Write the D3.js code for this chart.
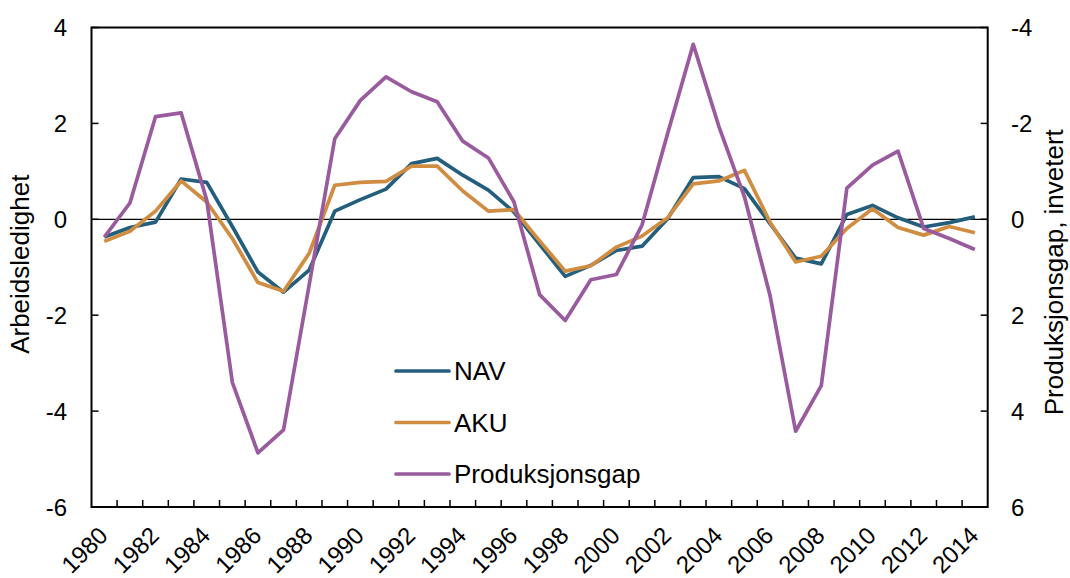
<!DOCTYPE html>
<html>
<head>
<meta charset="utf-8">
<script src="https://cdn.jsdelivr.net/npm/d3@7"></script>
<style>
  body { margin: 0; background: #fff; }
  svg text { font-family: "Liberation Sans", Arial, sans-serif; fill: #000; }
</style>
</head>
<body>
<div id="chart"></div>
<script>
// years on the x axis
var years = d3.range(1980, 2015);

// registered unemployment (NAV), deviation from trend
var nav = [-0.37, -0.17, -0.06, 0.84, 0.77, -0.15, -1.10, -1.52, -1.06, 0.17,
           0.41, 0.63, 1.16, 1.27, 0.92, 0.61, 0.15, -0.52, -1.19, -0.96,
           -0.65, -0.56, 0.01, 0.87, 0.89, 0.64, -0.09, -0.81, -0.93, 0.10,
           0.29, 0.03, -0.16, -0.07, 0.05];

// labour force survey (AKU)
var aku = [-0.46, -0.25, 0.17, 0.80, 0.36, -0.40, -1.32, -1.50, -0.71, 0.71,
           0.77, 0.79, 1.11, 1.11, 0.59, 0.17, 0.20, -0.45, -1.08, -0.97,
           -0.58, -0.35, 0.03, 0.74, 0.80, 1.02, -0.06, -0.89, -0.77, -0.19,
           0.22, -0.17, -0.33, -0.15, -0.28];

// output gap, drawn against the inverted right axis
var gap = [0.37, -0.34, -2.14, -2.22, -0.40, 3.40, 4.87, 4.39, 1.37, -1.68,
           -2.48, -2.97, -2.66, -2.45, -1.63, -1.28, -0.36, 1.57, 2.11, 1.26,
           1.15, 0.12, -1.79, -3.65, -1.94, -0.47, 1.59, 4.42, 3.47, -0.65,
           -1.13, -1.42, 0.19, 0.40, 0.63];

var leftTicks = [4, 2, 0, -2, -4, -6];
var rightTicks = [-4, -2, 0, 2, 4, 6];
var seriesNames = ["NAV", "AKU", "Produksjonsgap"];
var seriesColors = ["#235e7d", "#d08c40", "#995b9d"];

var width = 1070, height = 578,
    plot = {left: 91.5, right: 987.7, top: 27.5, bottom: 507};

var svg = d3.select("#chart").append("svg")
  .attr("width", width)
  .attr("height", height);

var x = d3.scaleBand()
  .domain(years)
  .range([plot.left, plot.right]);

var yLeft = d3.scaleLinear()
  .domain([-6, 4])
  .range([plot.bottom, plot.top]);

// inverted: -4 at the top, 6 at the bottom
var yRight = d3.scaleLinear()
  .domain([6, -4])
  .range([plot.bottom, plot.top]);

var cx = function(d, i) { return x(years[i]) + x.bandwidth() / 2; };

// zero line
svg.append("line")
  .attr("x1", plot.left).attr("x2", plot.right)
  .attr("y1", yLeft(0)).attr("y2", yLeft(0))
  .style("stroke", "#000")
  .style("stroke-width", 1.2);

// lines
var lineLeft = d3.line().x(cx).y(function(d) { return yLeft(d); });
var lineRight = d3.line().x(cx).y(function(d) { return yRight(d); });

[nav, aku].forEach(function(s, k) {
  svg.append("path")
    .datum(s)
    .attr("d", lineLeft)
    .style("fill", "none")
    .style("stroke", seriesColors[k])
    .style("stroke-width", 3.7)
    .style("stroke-linejoin", "round");
});

svg.append("path")
  .datum(gap)
  .attr("d", lineRight)
  .style("fill", "none")
  .style("stroke", seriesColors[2])
  .style("stroke-width", 3.7)
  .style("stroke-linejoin", "round");

// frame
svg.append("rect")
  .attr("x", plot.left).attr("y", plot.top)
  .attr("width", plot.right - plot.left)
  .attr("height", plot.bottom - plot.top)
  .style("fill", "none")
  .style("stroke", "#000")
  .style("stroke-width", 2);

// left axis ticks + labels (ticks point inward)
leftTicks.forEach(function(t) {
  svg.append("line")
    .attr("x1", plot.left).attr("x2", plot.left + 7)
    .attr("y1", yLeft(t)).attr("y2", yLeft(t))
    .style("stroke", "#000").style("stroke-width", 1.5);
  svg.append("text")
    .attr("x", 67).attr("y", yLeft(t))
    .attr("dy", "0.36em")
    .attr("text-anchor", "end")
    .style("font-size", "24px")
    .text(String(t));
});

// right axis
rightTicks.forEach(function(t) {
  svg.append("line")
    .attr("x1", plot.right - 7).attr("x2", plot.right)
    .attr("y1", yRight(t)).attr("y2", yRight(t))
    .style("stroke", "#000").style("stroke-width", 1.5);
  svg.append("text")
    .attr("x", 1011).attr("y", yRight(t))
    .attr("dy", "0.36em")
    .attr("text-anchor", "start")
    .style("font-size", "24px")
    .text(String(t));
});

// bottom ticks at the category boundaries
years.slice(1).forEach(function(yr) {
  svg.append("line")
    .attr("x1", x(yr)).attr("x2", x(yr))
    .attr("y1", plot.bottom).attr("y2", plot.bottom - 7)
    .style("stroke", "#000").style("stroke-width", 1.5);
});

// year labels, every second year
years.filter(function(yr) { return (yr - 1980) % 2 == 0; }).forEach(function(yr) {
  var px = x(yr) + x.bandwidth() / 2 + 5;
  svg.append("text")
    .attr("transform", "translate(" + px + ",537) rotate(-45)")
    .attr("text-anchor", "end")
    .style("font-size", "24px")
    .text(yr);
});

// axis titles
svg.append("text")
  .attr("transform", "translate(29," + ((plot.top + plot.bottom) / 2 - 3) + ") rotate(-90)")
  .attr("text-anchor", "middle")
  .style("font-size", "26px")
  .text("Arbeidsledighet");

svg.append("text")
  .attr("transform", "translate(1063," + ((plot.top + plot.bottom) / 2 + 5) + ") rotate(-90)")
  .attr("text-anchor", "middle")
  .style("font-size", "26px")
  .text("Produksjonsgap, invetert");

// legend
seriesNames.forEach(function(name, k) {
  var ly = 371 + k * 51.5;
  svg.append("line")
    .attr("x1", 396).attr("x2", 449)
    .attr("y1", ly).attr("y2", ly)
    .style("stroke", seriesColors[k])
    .style("stroke-width", 3.7)
    .style("stroke-linecap", "round");
  svg.append("text")
    .attr("x", 454).attr("y", ly)
    .attr("dy", "0.36em")
    .style("font-size", "26px")
    .text(name);
});
</script>
</body>
</html>
